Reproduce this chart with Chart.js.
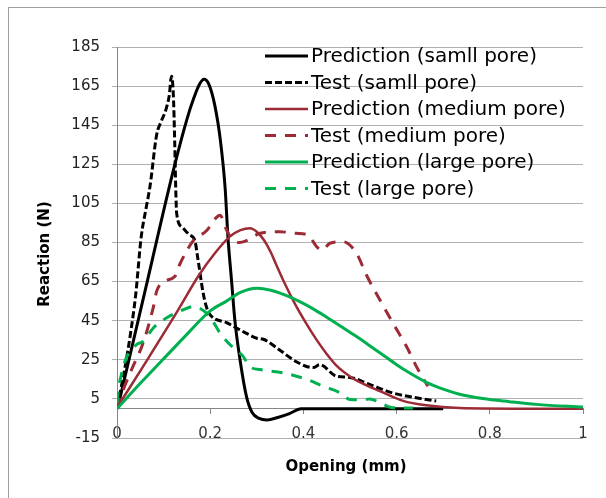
<!DOCTYPE html>
<html>
<head>
<meta charset="utf-8">
<script src="https://cdn.jsdelivr.net/npm/chart.js@4.4.1/dist/chart.umd.min.js"></script>
<style>
  html, body { margin: 0; padding: 0; background: #fff; }
  #wrap { position: relative; width: 606px; height: 498px; overflow: hidden; }
  #frame { position: absolute; left: 8px; top: 7px; width: 700px; height: 600px;
           border-top: 1px solid #a0a0a0; border-left: 1px solid #a0a0a0; }
  canvas { position: absolute; left: 0; top: 0; }
</style>
</head>
<body>
<div id="wrap">
  <div id="frame"></div>
  <canvas id="chart" width="606" height="498"></canvas>
</div>
<script>
// Data: [opening (mm), reaction (N)]
const predSmall = [
  [0.005, 4], [0.06, 60], [0.12, 121], [0.15, 148], [0.165, 159], [0.177, 166],
  [0.187, 168.5], [0.197, 166], [0.21, 155], [0.222, 137], [0.232, 113], [0.238, 88],
  [0.246, 65], [0.253, 45], [0.264, 25], [0.278, 6], [0.29, -2], [0.305, -5],
  [0.322, -5.8], [0.345, -4.5], [0.37, -2.5], [0.395, 0], [0.7, 0]
];
const testSmall = [
  [0.005, 6], [0.02, 25], [0.03, 40], [0.04, 58], [0.052, 88], [0.062, 102],
  [0.071, 114], [0.085, 140], [0.095, 147], [0.105, 153], [0.112, 160], [0.117, 170],
  [0.121, 160], [0.124, 135], [0.126, 113], [0.128, 100], [0.139, 93], [0.155, 89],
  [0.167, 86], [0.174, 76], [0.185, 59], [0.192, 52], [0.2, 48], [0.235, 44],
  [0.278, 38.5], [0.3, 36], [0.314, 35.5], [0.349, 30], [0.385, 24], [0.421, 21],
  [0.435, 22.5], [0.471, 16.6], [0.5, 16], [0.542, 12.4], [0.592, 8], [0.642, 5.6],
  [0.685, 3.9]
];
const predMedium = [
  [0, 0.5], [0.065, 25], [0.13, 50], [0.175, 68], [0.21, 79.5], [0.242, 88],
  [0.265, 91.3], [0.285, 92.3], [0.3, 90.5], [0.316, 86], [0.33, 80], [0.342, 73.5],
  [0.36, 64], [0.381, 54], [0.405, 44], [0.428, 35.3], [0.45, 28], [0.471, 22],
  [0.5, 16.5], [0.53, 12.5], [0.564, 9], [0.614, 4], [0.664, 1.7], [0.735, 0.3],
  [0.85, 0], [1, 0]
];
const testMedium = [
  [0, 0], [0.014, 10], [0.035, 22], [0.056, 33.6], [0.078, 52], [0.085, 60],
  [0.1, 65], [0.124, 67.6], [0.135, 74], [0.164, 86], [0.192, 91], [0.214, 98],
  [0.221, 99], [0.235, 91.5], [0.246, 87], [0.262, 85], [0.278, 86], [0.307, 89.7],
  [0.349, 90.5], [0.385, 89.7], [0.41, 88.8], [0.428, 83], [0.439, 81], [0.457, 84.6],
  [0.485, 85.4], [0.514, 79.5], [0.535, 68.5], [0.564, 55.7], [0.592, 43.8],
  [0.621, 31.9], [0.646, 20], [0.667, 11.5]
];
const predLarge = [
  [0, 0], [0.05, 13], [0.1, 25.5], [0.15, 38], [0.2, 50], [0.235, 55], [0.265, 59.5],
  [0.3, 61.6], [0.33, 60.6], [0.36, 58.2], [0.39, 55], [0.42, 51.2], [0.45, 46.8],
  [0.48, 42.2], [0.51, 37.5], [0.54, 32.6], [0.57, 27.6], [0.6, 22.5], [0.63, 18],
  [0.664, 13.5], [0.7, 10], [0.735, 7.4], [0.785, 5.2], [0.842, 3.6], [0.9, 2.2], [1, 0.8]
];
const testLarge = [
  [0, 3], [0.003, 10], [0.01, 18], [0.02, 26], [0.042, 32.8], [0.056, 34.4],
  [0.078, 41.3], [0.106, 46.4], [0.142, 50.6], [0.164, 52.3], [0.18, 51], [0.192, 48.9],
  [0.205, 45], [0.221, 38.7], [0.25, 31], [0.27, 27], [0.285, 21.5], [0.307, 20],
  [0.357, 18.3], [0.407, 15], [0.442, 11.5], [0.478, 8.2], [0.5, 4.7], [0.528, 4.5],
  [0.542, 5], [0.571, 2.2], [0.592, 0.5], [0.635, 0.3]
];

const seriesNames = [
  'Prediction (samll pore)', 'Test (samll pore)',
  'Prediction (medium pore)', 'Test (medium pore)',
  'Prediction (large pore)', 'Test (large pore)'
];
const xTicks = [0, 0.2, 0.4, 0.6, 0.8, 1];
const yTicks = [-15, 5, 25, 45, 65, 85, 105, 125, 145, 165, 185];
const xTitle = 'Opening (mm)';
const yTitle = 'Reaction (N)';

const BLACK = '#000000';
const RED = '#9c2b36';
const GREEN = '#00b050';

function makeSet(label, points, color, dash, width, idx) {
  return {
    label: label,
    data: points.map(p => ({ x: p[0], y: p[1] })),
    borderColor: color,
    backgroundColor: color,
    borderWidth: width,
    borderDash: dash,
    pointRadius: 0,
    fill: false,
    cubicInterpolationMode: 'monotone',
    order: 6 - idx
  };
}

// Legend and axis titles, drawn over the plot like the original
const overlayPlugin = {
  id: 'overlay',
  afterDatasetsDraw(chart) {
    const ctx = chart.ctx;
    ctx.save();
    ctx.fillStyle = '#000';
    ctx.textAlign = 'center';
    ctx.textBaseline = 'middle';
    ctx.font = 'bold 15px "DejaVu Sans"';
    ctx.fillText(xTitle, 346, 467);
    ctx.translate(45, 254);
    ctx.rotate(-Math.PI / 2);
    ctx.fillText(yTitle, 0, 0);
    ctx.restore();

    ctx.save();
    ctx.font = '20px "DejaVu Sans"';
    ctx.textAlign = 'left';
    ctx.textBaseline = 'middle';
    chart.data.datasets.forEach((ds, i) => {
      const y = 56 + i * 26.5;
      ctx.strokeStyle = ds.borderColor;
      ctx.lineWidth = ds.borderWidth;
      ctx.setLineDash(ds.borderDash);
      ctx.beginPath();
      ctx.moveTo(265, y);
      ctx.lineTo(308, y);
      ctx.stroke();
      ctx.fillStyle = '#000';
      ctx.fillText(ds.label, 311, y + 1);
    });
    ctx.restore();
  }
};

const tickFont = { family: 'DejaVu Sans', size: 15 };

new Chart(document.getElementById('chart'), {
  type: 'line',
  data: {
    datasets: [
      makeSet(seriesNames[0], predSmall, BLACK, [], 3, 0),
      makeSet(seriesNames[1], testSmall, BLACK, [7, 3], 3, 1),
      makeSet(seriesNames[2], predMedium, RED, [], 2.5, 2),
      makeSet(seriesNames[3], testMedium, RED, [11, 9], 3, 3),
      makeSet(seriesNames[4], predLarge, GREEN, [], 3, 4),
      makeSet(seriesNames[5], testLarge, GREEN, [11, 9], 3, 5)
    ]
  },
  options: {
    responsive: false,
    animation: false,
    devicePixelRatio: 1,
    layout: { autoPadding: false, padding: { left: 0, top: 47, right: 23, bottom: 60 } },
    plugins: { legend: { display: false }, tooltip: { enabled: false } },
    scales: {
      x: {
        type: 'linear',
        min: 0,
        max: 1,
        position: { y: 0 },
        afterBuildTicks: s => { s.ticks = xTicks.map(v => ({ value: v })); },
        grid: { drawOnChartArea: false, drawTicks: true, tickLength: 5, color: '#868686' },
        border: { color: '#868686' },
        ticks: { font: tickFont, color: '#333', padding: 11, maxRotation: 0, autoSkip: false,
                 callback: v => String(v) }
      },
      y: {
        type: 'linear',
        min: -15,
        max: 185,
        afterBuildTicks: s => { s.ticks = yTicks.map(v => ({ value: v })); },
        afterFit: s => { s.width = 117; },
        grid: { color: '#b0b0b0', tickLength: 5 },
        border: { color: '#868686' },
        ticks: { font: tickFont, color: '#222', padding: 12, autoSkip: false }
      }
    }
  },
  plugins: [overlayPlugin]
});
</script>
</body>
</html>
